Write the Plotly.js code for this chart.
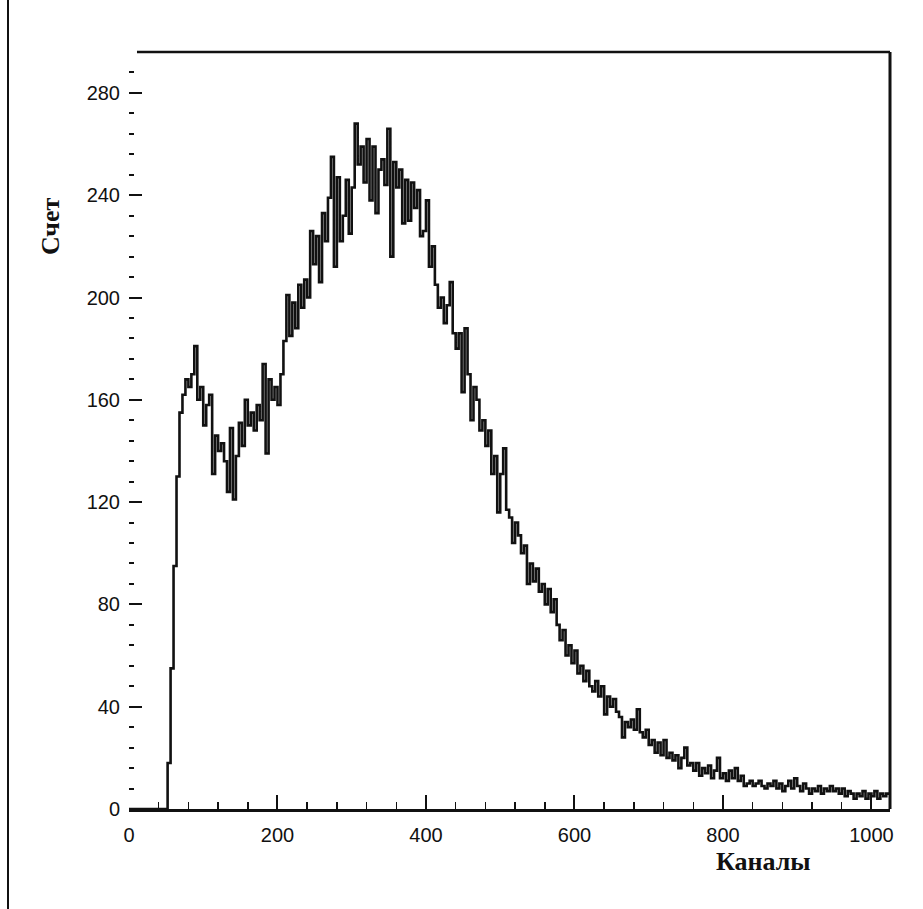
<!DOCTYPE html>
<html>
<head>
<meta charset="utf-8">
<script src="https://cdn.plot.ly/plotly-3.0.1.min.js"></script>
<style>html,body{margin:0;padding:0;background:#fff;}#chart{width:923px;height:909px;}</style>
</head>
<body>
<div id="chart"></div>
<script>
// Histogram: channels 0..1023, bin width 4 channels
const binWidth = 4;
const counts = [
  0,0,0,0,0,0,0,0,0,0,0,0,0,
  18,55,95,130,155,162,168,165,170,181,160,165,150,158,162,131,146,140,143,
  136,124,149,121,138,151,142,160,150,155,148,158,152,174,139,168,160,165,
  158,170,183,201,185,198,188,205,196,207,200,226,213,224,206,233,222,239,
  255,212,247,222,232,246,225,243,268,252,259,245,262,238,259,233,250,254,
  244,266,216,253,243,250,229,246,230,245,235,242,224,226,238,212,220,205,
  196,200,190,197,206,186,180,186,163,188,170,152,165,160,148,152,142,148,
  131,138,116,131,141,117,114,104,112,107,100,103,88,96,89,94,85,88,80,86,
  77,82,72,66,70,60,64,57,62,53,56,50,54,48,46,50,44,48,37,44,40,43,38,36,
  28,34,32,35,31,39,30,28,31,25,27,22,26,21,27,20,22,19,21,16,20,24,17,18,
  15,18,13,16,14,17,12,15,20,12,14,11,15,12,16,11,13,9,10,11,9,10,11,9,8,
  10,9,11,8,10,7,9,11,8,12,9,7,10,8,6,8,7,9,6,8,7,9,7,8,6,8,5,7,6,4,6,5,7,
  4,6,5,7,4,6,5,6
];
const xTickVals = [0, 200, 400, 600, 800, 1000];
const xTickText = ['0', '200', '400', '600', '800', '1000'];
const yTickVals = [0, 40, 80, 120, 160, 200, 240, 280];
const yTickText = ['0', '40', '80', '120', '160', '200', '240', '280'];
const xTitle = 'Каналы';
const yTitle = 'Счет';

const xs = counts.map((_, i) => i * binWidth);
const ys = counts.slice();
xs.push(counts.length * binWidth);
ys.push(counts[counts.length - 1]);

const tickFont = {family: 'Liberation Sans, Arial, sans-serif', size: 20, color: '#111'};
const titleFont = {family: 'Liberation Serif, Times New Roman, serif', size: 26, color: '#111'};

const trace = {
  x: xs, y: ys, type: 'scatter', mode: 'lines',
  line: {shape: 'hv', color: '#111', width: 2.6},
  hoverinfo: 'skip'
};

const layout = {
  width: 923, height: 909,
  margin: {l: 129, r: 33, t: 52, b: 100},
  paper_bgcolor: '#fff', plot_bgcolor: '#fff',
  showlegend: false,
  xaxis: {
    range: [0, 1025], showgrid: false, zeroline: false,
    showline: true, linecolor: '#111', linewidth: 3,
    ticks: 'inside', tickvals: xTickVals, ticktext: xTickText,
    ticklen: 14, tickwidth: 2, tickcolor: '#111',
    minor: {dtick: 40, ticks: 'inside', ticklen: 7, tickwidth: 1.5, tickcolor: '#111', showgrid: false},
    tickfont: tickFont, ticklabelstandoff: 6
  },
  yaxis: {
    range: [0, 296], showgrid: false, zeroline: false,
    showline: false,
    ticks: 'inside', tickvals: yTickVals, ticktext: yTickText,
    ticklen: 13, tickwidth: 2, tickcolor: '#111',
    minor: {dtick: 8, ticks: 'inside', ticklen: 5, tickwidth: 2, tickcolor: '#111', showgrid: false},
    tickfont: tickFont, ticklabelstandoff: 8
  },
  shapes: [
    {type: 'line', xref: 'paper', yref: 'paper', x0: 0.0105, x1: 1, y0: 1, y1: 1, line: {color: '#111', width: 2.5}},
    {type: 'line', xref: 'paper', yref: 'paper', x0: 1, x1: 1, y0: 0, y1: 1, line: {color: '#111', width: 3}},
    {type: 'line', xref: 'paper', yref: 'paper', x0: -0.159, x1: -0.159, y0: -0.135, y1: 1.07, line: {color: '#111', width: 2}}
  ],
  annotations: [
    {text: '<b>' + yTitle + '</b>', xref: 'paper', yref: 'paper', x: -0.1038, y: 0.77,
     textangle: -90, showarrow: false, font: titleFont, xanchor: 'center', yanchor: 'middle'},
    {text: '<b>' + xTitle + '</b>', xref: 'paper', yref: 'paper', x: 0.834, y: -0.0687,
     showarrow: false, font: titleFont, xanchor: 'center', yanchor: 'middle'}
  ]
};

Plotly.newPlot('chart', [trace], layout, {displayModeBar: false, staticPlot: true});
</script>
</body>
</html>
